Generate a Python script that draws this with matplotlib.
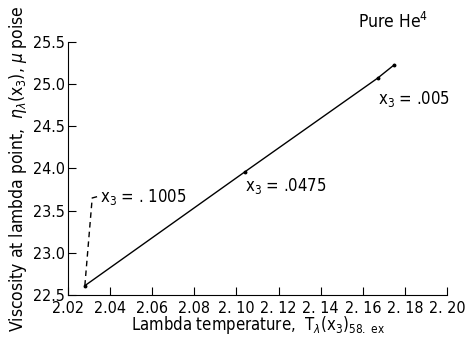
import matplotlib.pyplot as plt

plt.rcParams['font.family'] = ['DejaVu Sans']
plt.rcParams['font.stretch'] = 'condensed'
plt.rcParams['mathtext.fontset'] = 'dejavusans'

# viscosity line, lowest He3 concentration at top
temp = [2.028, 2.104, 2.167, 2.175]
visc = [22.61, 23.96, 25.07, 25.23]

# dashed leader for x3 = .1005
lead_t = [2.028, 2.0315, 2.0345]
lead_v = [22.61, 23.65, 23.67]

xticks = [2.02, 2.04, 2.06, 2.08, 2.10, 2.12, 2.14, 2.16, 2.18, 2.20]
xtick_labels = ['2.02', '2.04', '2.06', '2.08', '2. 10', '2. 12', '2. 14', '2. 16', '2. 18', '2. 20']
yticks = [22.5, 23.0, 23.5, 24.0, 24.5, 25.0, 25.5]

fig = plt.figure(figsize=(4.67, 3.41), dpi=100)
ax = fig.add_axes([0.1456, 0.135, 0.8116, 0.742])

ax.plot(temp, visc, color='black', lw=1.0)
ax.plot(temp, visc, 'o', color='black', ms=1.8)
ax.plot(lead_t, lead_v, color='black', lw=1.0, ls=(0, (4, 3)))

fs = 11.5
ax.text(2.0352, 23.66, r'x$_3$ = . 1005', fontsize=12, va='center')
ax.text(2.104, 23.79, r'x$_3$ = .0475', fontsize=12, va='center')
ax.text(2.1672, 24.82, r'x$_3$ = .005', fontsize=12, va='center')
ax.text(2.1578, 25.74, r'Pure He$^4$', fontsize=12.5, va='center', clip_on=False)

ax.set_xlim(2.02, 2.20)
ax.set_ylim(22.5, 25.5)
ax.set_xticks(xticks)
ax.set_xticklabels(xtick_labels)
ax.set_yticks(yticks)
ax.tick_params(direction='in', length=6, labelsize=fs, width=0.8, pad=2)
ax.tick_params(axis='x', pad=4)
ax.spines['top'].set_visible(False)
ax.spines['right'].set_visible(False)

ax.set_xlabel(r'Lambda temperature,  T$_\lambda$(x$_3$)$_{58.\ \mathrm{ex}}$', fontsize=12, labelpad=-1)
ax.set_ylabel(r'Viscosity at lambda point,  $\eta_\lambda$(x$_3$), $\mu$ poise', fontsize=12.5, labelpad=3)

fig.savefig('out.png', dpi=100)
